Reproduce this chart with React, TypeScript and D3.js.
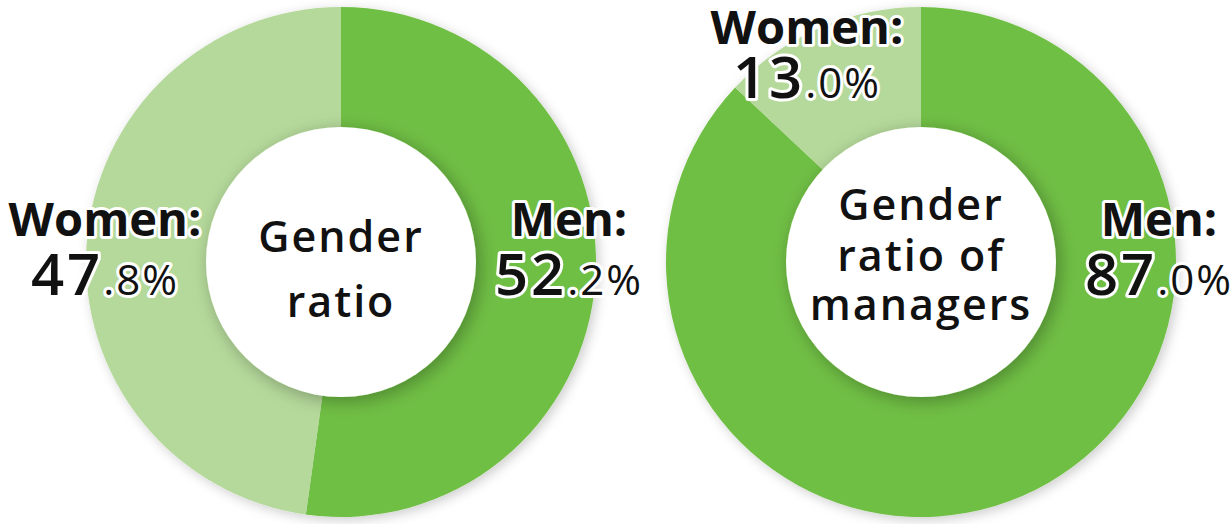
import React from "react";
import * as d3 from "d3";

const chartTitles = [["Gender", "ratio"], ["Gender", "ratio of", "managers"]];
const categories = ["Men", "Women"];
const genderRatio = [52.2, 47.8];
const managerRatio = [87.0, 13.0];
const seriesList = [genderRatio, managerRatio];
const colors = ["#70bf44", "#b5d99b"];

const W = 1232;
const H = 524;

const layouts = [
  {
    cx: 341, cy: 262,
    titleBaselines: [252, 317],
    labels: [
      { dx: 228, y1: 236, gap: 59 },
      { dx: -236, y1: 236, gap: 59 },
    ],
  },
  {
    cx: 921, cy: 262,
    titleBaselines: [220, 271, 320],
    labels: [
      { dx: 238, y1: 236, gap: 59 },
      { dx: -114, y1: 44, gap: 54 },
    ],
  },
];

function splitValue(v: number) {
  const s = v.toFixed(1);
  const [a, b] = s.split(".");
  return [a, "." + b + "%"];
}

export default function App() {
  const outerR = 255;
  const innerR = 135;
  const pie = d3.pie<number>().sort(null).value((d) => d);
  const arc = d3.arc<d3.PieArcDatum<number>>().innerRadius(innerR - 5).outerRadius(outerR);
  const font = "'Open Sans', 'Noto Sans', sans-serif";

  return (
    <svg width={W} height={H} style={{ position: "absolute", left: 0, top: 0, background: "#fff" }}>
      <defs>
        <filter id="outerShadow" x="-20%" y="-20%" width="140%" height="140%">
          <feDropShadow dx="3" dy="3" stdDeviation="6" floodColor="#000" floodOpacity="0.2" />
        </filter>
        <filter id="innerShadow" x="-30%" y="-30%" width="160%" height="160%">
          <feDropShadow dx="4" dy="4" stdDeviation="9" floodColor="#000" floodOpacity="0.3" />
        </filter>
      </defs>
      {seriesList.map((series, ci) => {
        const L = layouts[ci];
        const arcs = pie(series);
        return (
          <g key={ci}>
            <g transform={`translate(${L.cx},${L.cy})`}>
              <g filter="url(#outerShadow)">
                {arcs.map((a, i) => (
                  <path key={i} d={arc(a) || ""} fill={colors[i]} />
                ))}
              </g>
              <circle r={innerR} fill="#fff" filter="url(#innerShadow)" />
              <text
                textAnchor="middle"
                fontFamily={font}
                fontWeight={600}
                fontSize={43}
                letterSpacing={2}
                fill="#111"
              >
                {chartTitles[ci].map((line, li) => (
                  <tspan key={li} x={0} y={L.titleBaselines[li] - L.cy}>
                    {line}
                  </tspan>
                ))}
              </text>
            </g>
            {categories.map((cat, i) => {
              const lab = L.labels[i];
              const [big, small] = splitValue(series[i]);
              const x = L.cx + lab.dx;
              return (
                <text
                  key={cat}
                  textAnchor="middle"
                  fontFamily={font}
                  fill="#111"
                  stroke="#fff"
                  strokeWidth={6}
                  strokeLinejoin="round"
                  paintOrder="stroke"
                >
                  <tspan x={x} y={lab.y1} fontWeight={700} fontSize={47}>
                    {cat + ":"}
                  </tspan>
                  <tspan x={x} y={lab.y1 + lab.gap} fontWeight={600} fontSize={58} letterSpacing={3}>
                    {big}
                  </tspan>
                  <tspan fontWeight={500} fontSize={42} letterSpacing={2}>
                    {small}
                  </tspan>
                </text>
              );
            })}
          </g>
        );
      })}
    </svg>
  );
}
